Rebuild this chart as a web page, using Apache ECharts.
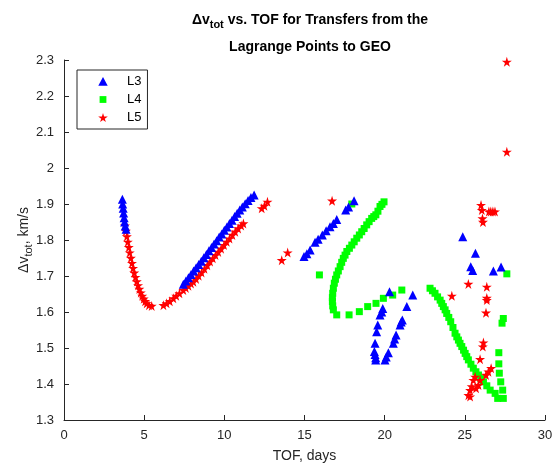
<!DOCTYPE html>
<html>
<head>
<meta charset="utf-8">
<script src="https://cdn.jsdelivr.net/npm/echarts@6/dist/echarts.min.js"></script>
<style>
html, body { margin: 0; padding: 0; background: #fff; }
#chart { width: 560px; height: 471px; }
</style>
</head>
<body>
<div id="chart"></div>
<script>
// L3 points (TOF in days, delta-v in km/s)
var l3Tof = [3.64, 3.66, 3.69, 3.72, 3.75, 3.78, 3.82, 3.87,
	7.44, 7.60, 7.76, 7.92, 8.08, 8.24, 8.40, 8.56, 8.72, 8.88, 9.04, 9.20, 9.36, 9.52,
	9.68, 9.84, 10.00, 10.16, 10.32, 10.48, 10.64, 10.80, 10.96, 11.12, 11.30, 11.48, 11.66, 11.86,
	14.97, 15.15, 15.35, 15.66, 15.85, 16.11, 16.35, 16.59, 16.80, 17.01, 17.57, 17.75, 18.09,
	20.30, 19.88, 19.82, 19.71, 19.57, 19.50, 19.40, 19.36, 19.40, 19.44, 19.44,
	20.02, 20.10, 20.23, 20.54, 20.62, 20.71, 20.96, 21.03, 21.10, 21.38, 21.75,
	24.87, 25.66, 25.37, 25.49, 26.78, 27.26];
var l3Dv = [1.913, 1.900, 1.888, 1.875, 1.862, 1.850, 1.839, 1.830,
	1.677, 1.686, 1.695, 1.704, 1.714, 1.723, 1.732, 1.741, 1.751, 1.760, 1.770, 1.779, 1.789, 1.798,
	1.808, 1.817, 1.827, 1.836, 1.846, 1.855, 1.865, 1.874, 1.883, 1.892, 1.901, 1.910, 1.918, 1.925,
	1.754, 1.762, 1.772, 1.794, 1.802, 1.814, 1.826, 1.837, 1.846, 1.857, 1.883, 1.892, 1.909,
	1.656, 1.610, 1.600, 1.592, 1.564, 1.545, 1.513, 1.490, 1.482, 1.473, 1.467,
	1.467, 1.475, 1.487, 1.513, 1.525, 1.536, 1.564, 1.572, 1.578, 1.615, 1.647,
	1.809, 1.763, 1.726, 1.715, 1.714, 1.725];

// L4 points
var l4Tof = [15.93, 17.95,
	19.96, 19.83, 19.71, 19.58, 19.45, 19.32, 19.19, 19.03, 18.88, 18.72, 18.57, 18.42, 18.26, 18.10,
	17.95, 17.80, 17.64, 17.53, 17.42, 17.32, 17.22, 17.11, 17.01, 16.93, 16.86, 16.80, 16.76, 16.74,
	16.74, 16.76, 16.80, 17.01, 17.78, 18.42, 18.94, 19.46, 19.92, 20.50, 21.07,
	22.83, 22.98, 23.14, 23.30, 23.46, 23.56, 23.66, 23.77, 23.87, 24.00, 24.12, 24.26, 24.39, 24.50,
	24.60, 24.70, 24.81, 24.92, 25.02, 25.12, 25.22, 25.38, 25.53, 25.69, 25.85, 26.00, 26.16, 26.37,
	26.58, 26.89, 27.05,
	27.62, 27.40, 27.32, 27.12, 27.12, 27.15, 27.24, 27.36, 27.40];
var l4Dv = [1.703, 1.900,
	1.906, 1.899, 1.893, 1.880, 1.870, 1.865, 1.860, 1.851, 1.842, 1.832, 1.823, 1.814, 1.805, 1.795,
	1.786, 1.777, 1.768, 1.758, 1.749, 1.738, 1.726, 1.714, 1.703, 1.691, 1.680, 1.666, 1.652, 1.640,
	1.629, 1.617, 1.606, 1.592, 1.592, 1.601, 1.615, 1.624, 1.638, 1.647, 1.661,
	1.666, 1.659, 1.652, 1.642, 1.633, 1.624, 1.615, 1.606, 1.596, 1.585, 1.573, 1.557, 1.541, 1.531,
	1.522, 1.513, 1.504, 1.494, 1.485, 1.476, 1.467, 1.455, 1.444, 1.434, 1.425, 1.415, 1.406, 1.395,
	1.383, 1.374, 1.360,
	1.706, 1.582, 1.569, 1.487, 1.456, 1.430, 1.406, 1.383, 1.360];

// L5 points
var l5Tof = [3.80, 3.86, 3.92, 3.98, 4.04, 4.10, 4.17, 4.24, 4.31, 4.38, 4.46, 4.54, 4.62, 4.70,
	4.79, 4.88, 4.97, 5.06, 5.16, 5.30, 5.47,
	6.20, 6.40, 6.60, 6.82, 7.00, 7.20, 7.44, 7.60, 7.76, 7.92, 8.07, 8.24, 8.40, 8.58, 8.76, 8.94,
	9.11, 9.28, 9.45, 9.62, 9.80, 9.98, 10.15, 10.32, 10.50, 10.68, 10.86, 11.05, 11.19,
	12.33, 12.50, 12.69, 13.58, 13.95, 16.72,
	27.62, 27.62, 26.01, 26.06, 26.10, 26.13, 26.50, 26.62, 26.75, 26.88,
	25.22, 24.19, 26.37, 26.37, 26.37, 26.32,
	26.16, 26.12, 25.95, 26.64, 26.47, 26.32, 25.64, 25.53, 25.95, 25.85, 25.43, 25.33, 25.22, 25.33, 25.70];
var l5Dv = [1.840, 1.825, 1.810, 1.795, 1.780, 1.765, 1.750, 1.736, 1.722, 1.709, 1.697, 1.685, 1.674, 1.664,
	1.654, 1.645, 1.637, 1.630, 1.624, 1.619, 1.617,
	1.619, 1.624, 1.630, 1.638, 1.645, 1.652, 1.661, 1.667, 1.673, 1.679, 1.684, 1.692, 1.701, 1.710, 1.720, 1.730,
	1.740, 1.749, 1.758, 1.767, 1.776, 1.786, 1.795, 1.804, 1.814, 1.823, 1.832, 1.840, 1.846,
	1.888, 1.895, 1.906, 1.744, 1.765, 1.909,
	2.295, 2.045, 1.897, 1.883, 1.860, 1.850, 1.879, 1.879, 1.879, 1.879,
	1.678, 1.645, 1.670, 1.639, 1.633, 1.598,
	1.515, 1.504, 1.469, 1.444, 1.434, 1.425, 1.420, 1.411, 1.411, 1.397, 1.393, 1.383, 1.369, 1.365, 1.388];

var xTicks = { min: 0, max: 30, step: 5 };
var yTicks = { min: 1.3, max: 2.3, step: 0.1 };

var starPath = 'path://M50,0 L61,35 L98,35 L68,57 L79,91 L50,70 L21,91 L32,57 L2,35 L39,35 Z';
// legend icons: an invisible 0..10 frame keeps them square and sized like the markers
var legendTri = 'path://M0,0M10,10M0.3,9.3L5,0.5L9.7,9.3Z';
var legendSquare = 'path://M0,0M10,10M1.6,1.6h6.8v6.8h-6.8z';
var legendStar = 'path://M0,0M100,100M50,5 L61,40 L98,40 L68,62 L79,96 L50,75 L21,96 L32,62 L2,40 L39,40 Z';

function zip(xs, ys) {
	var out = [];
	for (var i = 0; i < xs.length; i++) {
		out.push([xs[i], ys[i]]);
	}
	return out;
}

var chart = echarts.init(document.getElementById('chart'));
var axisColor = '#262626';
var font = 'Liberation Sans, Arial, sans-serif';

var option = {
	animation: false,
	backgroundColor: '#fff',
	textStyle: { fontFamily: font },
	title: {
		left: 305,
		top: 2,
		textAlign: 'center',
		text: '{b|Δv}{s|tot}{b| vs. TOF for Transfers from the}\n{b|Lagrange Points to GEO}',
		textStyle: {
			fontFamily: font,
			rich: {
				b: { fontSize: 14, fontWeight: 'bold', color: '#000', lineHeight: 27, fontFamily: font },
				s: { fontSize: 11, fontWeight: 'bold', color: '#000', padding: [9, 0, 0, 0], fontFamily: font }
			}
		}
	},
	legend: {
		orient: 'vertical',
		left: 77,
		top: 70,
		padding: [5, 6, 5, 21],
		itemWidth: 10,
		itemHeight: 10,
		itemGap: 5,
		borderColor: axisColor,
		borderWidth: 1,
		textStyle: { fontSize: 13, color: '#000', fontFamily: font, padding: [0, 0, 0, 14] },
		data: [
			{ name: 'L3', icon: legendTri },
			{ name: 'L4', icon: legendSquare },
			{ name: 'L5', icon: legendStar }
		]
	},
	grid: { left: 64, right: 15, top: 60, bottom: 51 },
	xAxis: {
		type: 'value',
		min: xTicks.min,
		max: xTicks.max,
		interval: xTicks.step,
		name: 'TOF, days',
		nameLocation: 'middle',
		nameGap: 29,
		nameTextStyle: { fontSize: 14, color: axisColor, fontFamily: font },
		axisLine: { show: true, lineStyle: { color: axisColor } },
		axisTick: { show: true, inside: true, length: 5, lineStyle: { color: axisColor } },
		axisLabel: { fontSize: 13, color: axisColor, margin: 9, fontFamily: font },
		splitLine: { show: false }
	},
	yAxis: {
		type: 'value',
		min: yTicks.min,
		max: yTicks.max,
		interval: yTicks.step,
		name: '{a|Δv}{s|tot}{a|, km/s}',
		nameLocation: 'middle',
		nameGap: 30,
		nameMoveOverlap: false,
		nameTextStyle: {
			fontFamily: font,
			rich: {
				a: { fontSize: 14, color: axisColor, fontFamily: font },
				s: { fontSize: 11, color: axisColor, padding: [8, 0, 0, 0], fontFamily: font }
			}
		},
		axisLine: { show: true, lineStyle: { color: axisColor } },
		axisTick: { show: true, inside: true, length: 5, lineStyle: { color: axisColor } },
		axisLabel: {
			fontSize: 13, color: axisColor, margin: 10, fontFamily: font,
			formatter: function (v) { return String(+v.toFixed(1)); }
		},
		splitLine: { show: false }
	},
	series: [{
		name: 'L3',
		type: 'scatter',
		symbol: 'triangle',
		symbolSize: 9,
		z: 3,
		itemStyle: { color: '#0000ff', opacity: 1 },
		data: zip(l3Tof, l3Dv)
	}, {
		name: 'L4',
		type: 'scatter',
		symbol: 'rect',
		symbolSize: 7,
		z: 2,
		itemStyle: { color: '#00ff00', opacity: 1 },
		data: zip(l4Tof, l4Dv)
	}, {
		name: 'L5',
		type: 'scatter',
		symbol: starPath,
		symbolSize: 10,
		z: 2,
		itemStyle: { color: '#ff0000', opacity: 1 },
		data: zip(l5Tof, l5Dv)
	}]
};

chart.setOption(option);
</script>
</body>
</html>
